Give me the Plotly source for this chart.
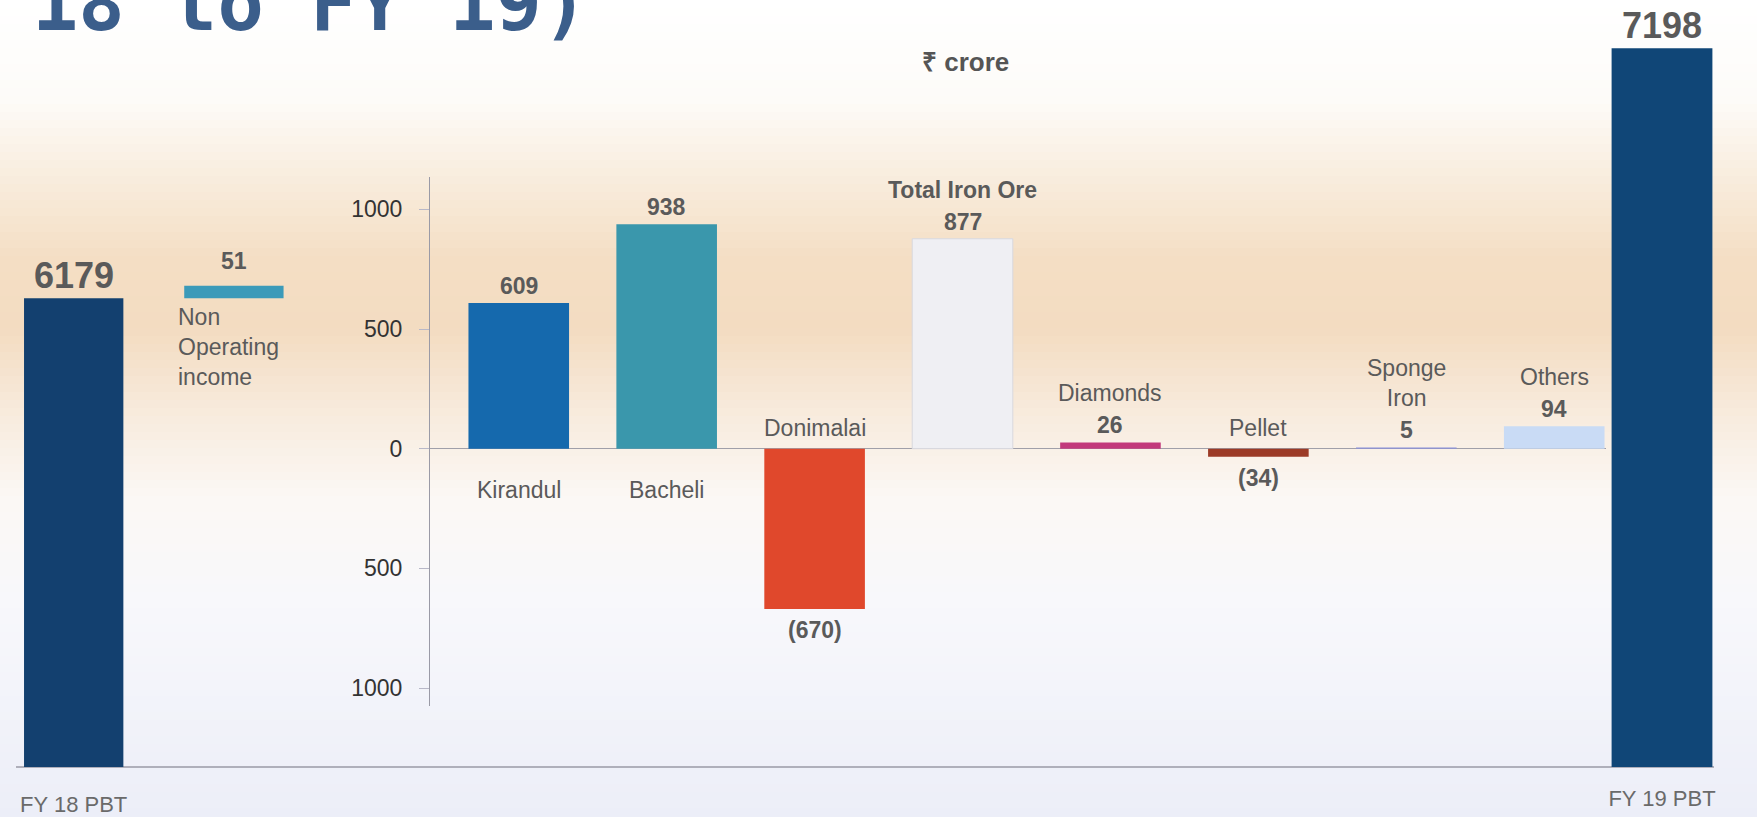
import plotly.graph_objects as go

# ---------------- data ----------------
pbt_labels = ["FY 18 PBT", "FY 19 PBT"]
pbt_values = [6179, 7198]
nonop_label = "Non Operating income"
nonop_value = 51

segments = ["Kirandul", "Bacheli", "Donimalai", "Total Iron Ore",
            "Diamonds", "Pellet", "Sponge Iron", "Others"]
segment_values = [609, 938, -670, 877, 26, -34, 5, 94]
segment_names = ["Kirandul", "Bacheli", "Donimalai", "Total Iron Ore",
                 "Diamonds", "Pellet", "Sponge<br>Iron", "Others"]

inner_tickvals = [1000, 500, 0, -500, -1000]
inner_ticktext = ["1000", "500", "0", "500", "1000"]

unit_label = "₹ crore"
title_fragment = "18 to FY 19)"

# ---------------- styles ----------------
seg_colors = ["#1569ad", "#3a97ac", "#e0482c", "#efeff3",
              "#c23a7c", "#9c3b27", "#8a90d8", "#c9dbf5"]
FONT = "Liberation Sans, Arial, sans-serif"
GREY = "#5a5a5a"
W, H = 1757, 817

fig = go.Figure()

# outer left: FY18 bar + floating non-operating income bar
fig.add_trace(go.Bar(
    x=[pbt_labels[0], nonop_label],
    y=[pbt_values[0], nonop_value],
    base=[0, pbt_values[0]],
    marker=dict(color=["#13406f", "#3b9ab9"], line=dict(width=0)),
    width=0.62, xaxis="x", yaxis="y", hoverinfo="skip",
))
# outer right: FY19 bar
fig.add_trace(go.Bar(
    x=[pbt_labels[1]], y=[pbt_values[1]],
    marker=dict(color="#104677", line=dict(width=0)),
    width=0.63, xaxis="x3", yaxis="y", hoverinfo="skip",
))
# inner segment bars
fig.add_trace(go.Bar(
    x=segments, y=segment_values,
    marker=dict(color=seg_colors,
                line=dict(color=["rgba(0,0,0,0)"] * 3 + ["#d8d8de"] + ["rgba(0,0,0,0)"] * 4,
                          width=1)),
    width=0.68, xaxis="x2", yaxis="y2", hoverinfo="skip",
))

annotations = []

def fmt(v):
    return f"({abs(v)})" if v < 0 else str(v)

# inner labels
for cat, v, name in zip(segments, segment_values, segment_names):
    bold_name = cat == "Total Iron Ore"
    if v < 0:
        annotations.append(dict(x=cat, y=v, xref="x2", yref="y2", text=f"<b>{fmt(v)}</b>",
                                yanchor="top", yshift=-6, showarrow=False,
                                font=dict(size=23, color=GREY, family=FONT)))
        annotations.append(dict(x=cat, y=0, xref="x2", yref="y2", text=name,
                                yanchor="bottom", yshift=6, showarrow=False,
                                font=dict(size=23, color=GREY, family=FONT)))
    else:
        annotations.append(dict(x=cat, y=v, xref="x2", yref="y2", text=f"<b>{fmt(v)}</b>",
                                yanchor="bottom", yshift=2, showarrow=False,
                                font=dict(size=23, color=GREY, family=FONT)))
        if v >= 500 and not bold_name:
            annotations.append(dict(x=cat, y=0, xref="x2", yref="y2", text=name,
                                    yanchor="top", yshift=-26, showarrow=False,
                                    font=dict(size=23, color=GREY, family=FONT)))
        else:
            annotations.append(dict(x=cat, y=v, xref="x2", yref="y2",
                                    text=f"<b>{name}</b>" if bold_name else name,
                                    yanchor="bottom", yshift=34, showarrow=False,
                                    font=dict(size=23, color=GREY, family=FONT)))

# outer labels
annotations.append(dict(x=pbt_labels[0], y=pbt_values[0], xref="x", yref="y",
                        text=f"<b>{pbt_values[0]}</b>", yanchor="bottom", yshift=0,
                        showarrow=False, font=dict(size=36, color=GREY, family=FONT)))
annotations.append(dict(x=pbt_labels[1], y=pbt_values[1], xref="x3", yref="y",
                        text=f"<b>{pbt_values[1]}</b>", yanchor="bottom", yshift=0,
                        showarrow=False, font=dict(size=36, color=GREY, family=FONT)))
annotations.append(dict(x=nonop_label, y=pbt_values[0] + nonop_value, xref="x", yref="y",
                        text=f"<b>{nonop_value}</b>", yanchor="bottom", yshift=10,
                        showarrow=False, font=dict(size=23, color=GREY, family=FONT)))
annotations.append(dict(x=nonop_label, y=pbt_values[0], xref="x", yref="y",
                        text="Non<br>Operating<br>income", align="left",
                        xanchor="left", xshift=-58, yanchor="top", yshift=-4,
                        showarrow=False, font=dict(size=23, color=GREY, family=FONT)))

# unit and title fragment
annotations.append(dict(x=966 / W, y=1 - 62 / H, xref="paper", yref="paper",
                        text=f"<b>{unit_label}</b>", xanchor="center", yanchor="middle",
                        showarrow=False, font=dict(size=26, color="#555555", family=FONT)))
annotations.append(dict(x=30 / W, y=1 - 50 / H, xref="paper", yref="paper",
                        text=f"<b>{title_fragment}</b>", xanchor="left", yanchor="bottom",
                        showarrow=False,
                        font=dict(size=77, color="#3b5e8b", family="DejaVu Sans Mono, monospace")))

# ---------------- background gradient ----------------
stops = [(0, (255, 255, 255)), (100, (253, 251, 248)), (170, (249, 238, 224)),
         (260, (244, 222, 196)), (330, (243, 220, 193)), (420, (248, 236, 223)),
         (500, (251, 248, 245)), (600, (248, 248, 251)), (817, (236, 238, 248))]

def col_at(py):
    for (y0, c0), (y1, c1) in zip(stops[:-1], stops[1:]):
        if y0 <= py <= y1:
            t = (py - y0) / (y1 - y0)
            return "rgb(%d,%d,%d)" % tuple(round(a + (b - a) * t) for a, b in zip(c0, c1))
    return "rgb(236,238,248)"

shapes = []
step = 8
for py in range(0, H, step):
    shapes.append(dict(type="rect", xref="paper", yref="paper", layer="below",
                       x0=0, x1=1, y0=1 - (py + step) / H, y1=1 - py / H,
                       fillcolor=col_at(py + step / 2), line=dict(width=0)))
# baseline of the outer chart
shapes.append(dict(type="line", xref="paper", yref="y domain", layer="below",
                   x0=16 / W, x1=1714 / W, y0=0, y1=0,
                   line=dict(color="#9a9aa6", width=1.5)))

fig.update_layout(
    width=W, height=H, autosize=False,
    margin=dict(l=0, r=0, t=0, b=0),
    paper_bgcolor="white", plot_bgcolor="rgba(0,0,0,0)",
    showlegend=False, barmode="overlay",
    font=dict(family=FONT, color=GREY),
    annotations=annotations, shapes=shapes,
    xaxis=dict(domain=[0, 314 / W], range=[-0.46, 1.5], anchor="y",
               tickvals=[pbt_labels[0]], ticktext=[pbt_labels[0]],
               ticks="", showline=False, showgrid=False, zeroline=False,
               tickfont=dict(size=22, color="#6a6a6a", family=FONT),
               ticklabelstandoff=22),
    xaxis3=dict(domain=[1582 / W, 1742 / W], range=[-0.5, 0.5], anchor="y",
                ticks="", showline=False, showgrid=False, zeroline=False,
                tickfont=dict(size=22, color="#6a6a6a", family=FONT),
                ticklabelstandoff=16),
    yaxis=dict(domain=[1 - 767 / H, 1], range=[4267, 7395], visible=False),
    xaxis2=dict(domain=[430 / W, 1606 / W], range=[-0.6, 7.35], anchor="y2",
                visible=False),
    yaxis2=dict(domain=[1 - 706 / H, 1 - 177 / H], range=[-1075, 1135], anchor="x2",
                tickvals=inner_tickvals, ticktext=inner_ticktext,
                ticks="outside", ticklen=10, tickcolor="#b8b8c8",
                showline=True, linecolor="#9a9aa6", linewidth=1,
                zeroline=True, zerolinecolor="#a0a0aa", zerolinewidth=1,
                showgrid=False,
                tickfont=dict(size=23, color="#333333", family=FONT),
                ticklabelstandoff=12),
)

fig.write_html("out.html",
               config={"displayModeBar": False},
               post_script="document.body.style.margin='0';"
                           "document.body.style.overflow='hidden';")
